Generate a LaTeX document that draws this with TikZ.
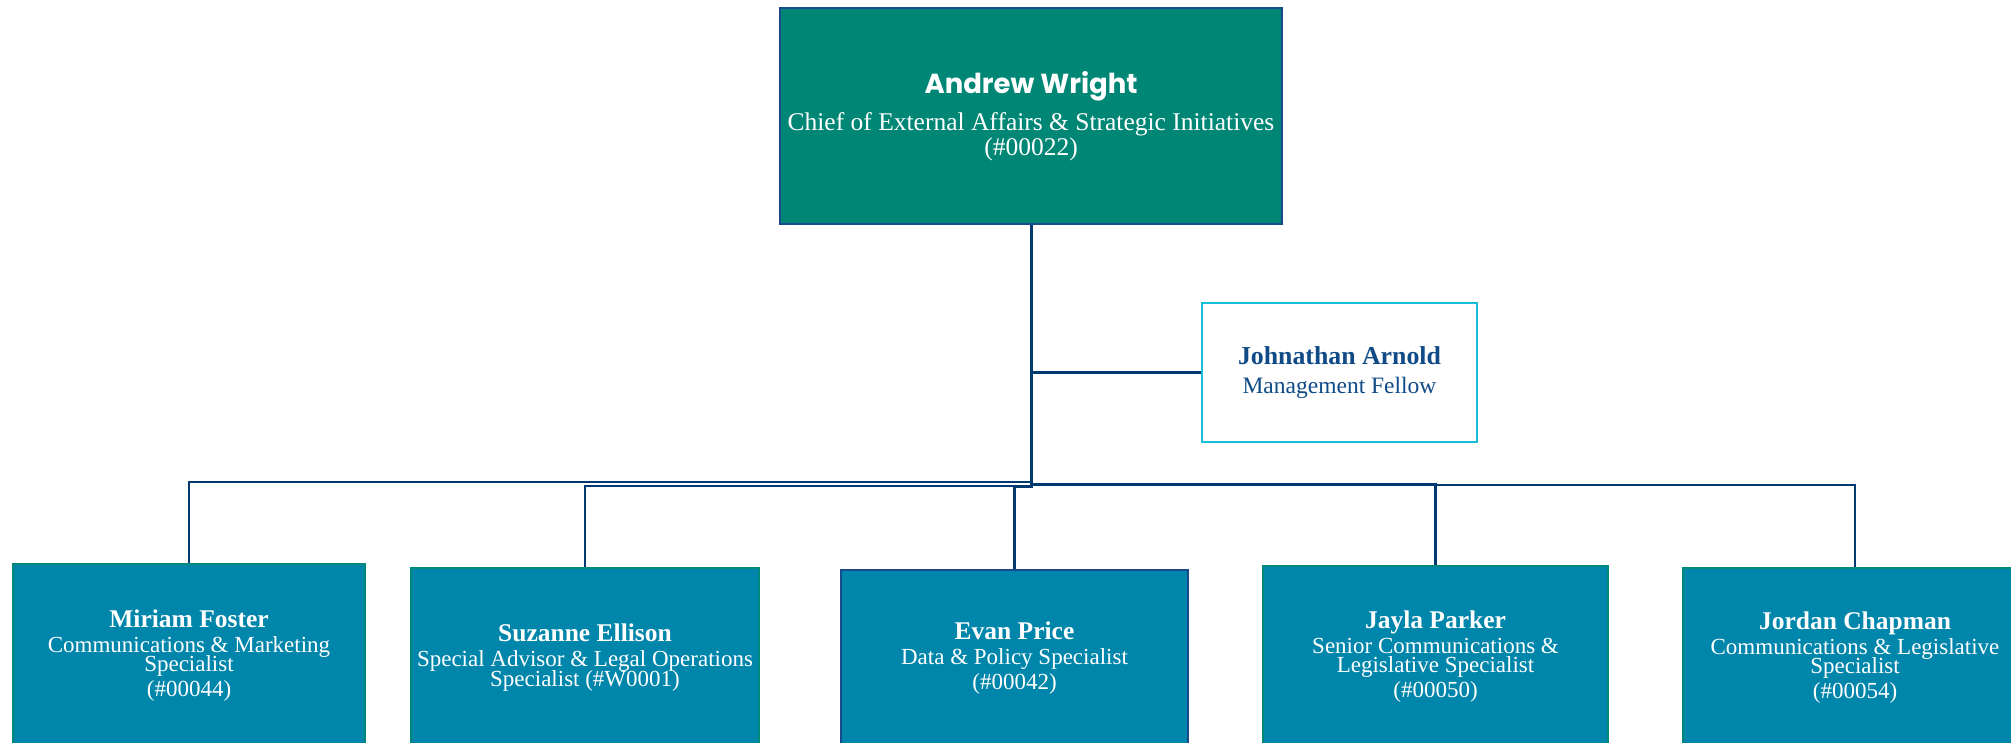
\documentclass[tikz,border=0pt]{standalone}
\usepackage{fontspec}
\setmainfont{Liberation Serif}
\newfontfamily\headfont{Poppins}
\definecolor{chieffill}{RGB}{0,134,116}
\definecolor{chiefline}{RGB}{26,74,140}
\definecolor{stafffill}{RGB}{0,134,171}
\definecolor{staffline}{RGB}{0,137,123}
\definecolor{linknavy}{RGB}{0,58,112}
\definecolor{fellowline}{RGB}{23,190,215}
\definecolor{fellowtext}{RGB}{16,75,135}

\begin{document}
\begin{tikzpicture}[x=1pt, y=-1pt,
    chief/.style={draw=chiefline, line width=2.5pt, fill=chieffill, text=white, align=center,
        minimum width=502pt, minimum height=216pt, inner sep=0pt, font=\fontsize{25.5}{25}\selectfont},
    fellow/.style={draw=fellowline, line width=2.5pt, fill=white, text=fellowtext, align=center,
        minimum width=275pt, minimum height=139pt, inner sep=0pt, font=\fontsize{23.5}{29}\selectfont},
    staff/.style={draw=staffline, line width=2pt, fill=stafffill, text=white, align=center, anchor=north,
        minimum width=347pt, inner sep=0pt, font=\fontsize{23}{25}\selectfont},
    trunk/.style={draw=linknavy, line width=3pt},
    link/.style={draw=linknavy, line width=2.5pt}]
    \useasboundingbox (0,0) rectangle (2011,743);
    \clip (0,0) rectangle (2011,743);

    \node[chief] (aw) at (1031,116) {{\headfont\bfseries\fontsize{27.5}{25}\selectfont Andrew Wright}\\[10pt]
        Chief of External Affairs \& Strategic Initiatives\\ (\#00022)};
    \node[fellow] (ja) at (1339.5,372.5) {{\bfseries\fontsize{25.8}{29}\selectfont Johnathan Arnold}\\ Management Fellow};

    \node[staff, minimum width=352pt, minimum height=183pt] (mf) at (189,563)
        {{\bfseries\fontsize{25.5}{25}\selectfont Miriam Foster}\\ Communications \& Marketing\\[-6pt] Specialist\\ (\#00044)};
    \node[staff, minimum width=348pt, minimum height=179pt] (se) at (585,567)
        {{\bfseries\fontsize{25.5}{25}\selectfont Suzanne Ellison}\\ Special Advisor \& Legal Operations\\[-5pt] Specialist (\#W0001)};
    \node[staff, draw=chiefline, minimum height=177pt] (ep) at (1014.5,569)
        {{\bfseries\fontsize{25.5}{25}\selectfont Evan Price}\\ Data \& Policy Specialist\\ (\#00042)};
    \node[staff, minimum width=345pt, minimum height=181pt] (jp) at (1435.5,565)
        {{\bfseries\fontsize{25.5}{25}\selectfont Jayla Parker}\\ Senior Communications \&\\[-6pt] Legislative Specialist\\ (\#00050)};
    \node[staff, minimum width=344pt, minimum height=179pt] (jc) at (1855,567)
        {{\bfseries\fontsize{25.5}{25}\selectfont Jordan Chapman}\\ Communications \& Legislative\\[-6pt] Specialist\\ (\#00054)};

    \coordinate (hub) at (1031,488);
    \draw[trunk] (aw.south) -- (hub);
    \draw[link] (aw.south |- ja.west) -- (ja.west);
    \foreach \n/\dy in {mf/6, se/2, ep/1, jp/4, jc/3}
        \draw[link] ([yshift=\dy pt]hub) -| (\n.north);
\end{tikzpicture}
\end{document}
